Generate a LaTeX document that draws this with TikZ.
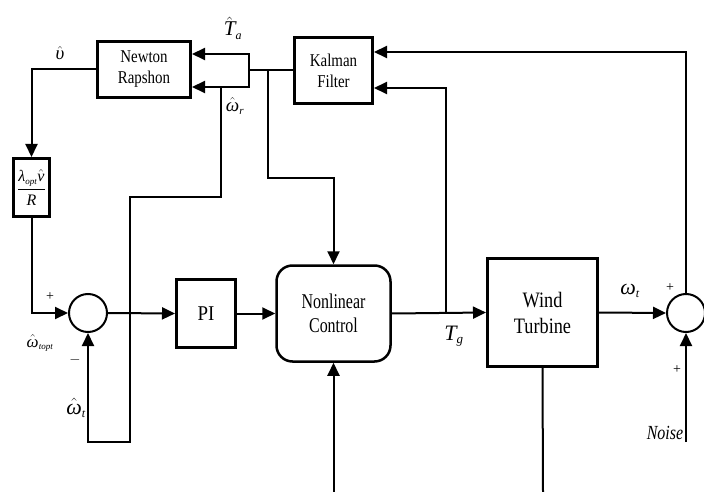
\documentclass[tikz,border=0pt]{standalone}
\usepackage{fontspec}
\setmainfont{Liberation Serif}
\usetikzlibrary{arrows.meta}
\newcommand{\sqz}[2][0.85]{\scalebox{#1}[1]{#2}}
\newcommand{\itb}[1]{\hbox{\itshape #1}}
\newcommand{\its}[2]{\hbox{\fontsize{#1}{#1}\selectfont\itshape #2}}
\begin{document}
\begin{tikzpicture}[x=1pt,y=-1pt,
  blk/.style={draw, line width=3pt, inner sep=0pt, align=center},
  conn/.style={line width=2pt},
  arr/.style={conn, -{Triangle[length=13pt,width=12pt]}},
  sumc/.style={draw, circle, line width=2pt, minimum size=38pt, inner sep=0pt},
  lbl/.style={inner sep=0pt},
]
\useasboundingbox (0,0) rectangle (704,492);

% blocks
\node[blk, minimum width=93pt, minimum height=56pt, font=\fontsize{18}{21}\selectfont] (nr) at (144,69.5) {\sqz[0.83]{Newton}\\\sqz[0.83]{Rapshon}};
\node[blk, minimum width=78pt, minimum height=66pt, font=\fontsize{18}{21}\selectfont] (kf) at (333.5,70.5) {\sqz[0.83]{Kalman}\\\sqz[0.83]{Filter}};
\node[blk, minimum width=36pt, minimum height=58pt, font=\fontsize{16}{18}\selectfont] (lam) at (31.5,187.5) {$\displaystyle\frac{\itb{λ}_{\its{9}{opt}}\hat{\itb{v}}}{\itb{R}}$};
\node[sumc] (sl) at (88,313) {};
\node[blk, minimum width=59pt, minimum height=68pt, font=\fontsize{21}{24}\selectfont] (pi) at (206,313.5) {\sqz[0.9]{PI}};
\node[blk, line width=2.5pt, rounded corners=16pt, minimum width=114pt, minimum height=96pt, font=\fontsize{21}{24}\selectfont] (nc) at (333.5,313.5) {\sqz[0.76]{Nonlinear}\\\sqz[0.76]{Control}};
\node[blk, minimum width=110pt, minimum height=108pt, font=\fontsize{22}{26}\selectfont] (wt) at (542.5,312.5) {\sqz[0.83]{Wind}\\\sqz[0.83]{Turbine}};
\node[sumc] (sr) at (686,313) {};

% junctions and free ends
\coordinate (bk) at (249,70.5);
\coordinate (j1) at (268,70.5);
\coordinate (j2) at (268,178);
\coordinate (wr0) at (221,87);
\coordinate (wr1) at (221,197);
\coordinate (wr2) at (130,197);
\coordinate (wr3) at (130,442);
\coordinate (wr4) at (88,442);
\coordinate (tgj) at (446,313);
\coordinate (bin) at (333.5,492);
\coordinate (bout) at (543,492);
\coordinate (nz) at (686,442);

% connectors
\draw[conn] (kf.west) -- (bk);
\draw[arr] (bk) |- ([yshift=15.5pt]nr.east);
\draw[arr] (bk) |- ([yshift=-17.5pt]nr.east);
\draw[arr] (j1) -- (j2) -| (nc.north);
\draw[arr] (wr0) -- (wr1) -- (wr2) -- (wr3) -- (wr4) -- (sl.south);
\draw[arr] (nr.west) -| (lam.north);
\draw[arr] (lam.south) |- (sl.west);
\draw[arr] (sl.east) -- (pi.west);
\draw[arr] (pi.east) -- (nc.west);
\draw[arr] (nc.east) -- (wt.west);
\draw[arr] (tgj) |- ([yshift=-17.5pt]kf.east);
\draw[arr] (wt.east) -- (sr.west);
\draw[arr] (sr.north) |- ([yshift=18.5pt]kf.east);
\draw[arr] (nz) -- (sr.south);
\draw[arr] (bin) -- (nc.south);
\draw[conn] (wt.south) -- (bout);

% labels
\node[lbl, font=\fontsize{21}{24}\selectfont] (lta) at (233,28) {$\hat{\itb{T}}_{\its{12}{a}}$};
\node[lbl, font=\fontsize{19}{20}\selectfont] (lv) at (60,53) {$\hat{\itb{υ}}$};
\node[lbl, font=\fontsize{19}{20}\selectfont] (lwr) at (235,106) {$\hat{\itb{ω}}_{\its{11}{r}}$};
\node[lbl, font=\fontsize{14}{16}\selectfont] (lp1) at (50,297) {+};
\node[lbl, font=\fontsize{17}{18}\selectfont] (lwo) at (40,343) {$\hat{\itb{ω}}_{\its{9}{topt}}$};
\node[lbl, font=\fontsize{14}{16}\selectfont] (lm) at (75,360) {$-$};
\node[lbl, font=\fontsize{22}{24}\selectfont] (lwt) at (76,408) {$\hat{\itb{ω}}_{\its{12}{t}}$};
\node[lbl, font=\fontsize{22}{24}\selectfont] (ltg) at (454,336) {$\itb{T}_{\its{13}{g}}$};
\node[lbl, font=\fontsize{22}{24}\selectfont] (lwt2) at (630,291) {$\itb{ω}_{\its{12}{t}}$};
\node[lbl, font=\fontsize{14}{16}\selectfont] (lp2) at (670,288) {+};
\node[lbl, font=\fontsize{14}{16}\selectfont] (lp3) at (677,370) {+};
\node[lbl, font=\fontsize{20}{22}\selectfont] (lnz) at (665,433) {\sqz[0.8]{\textit{Noise}}};
\end{tikzpicture}
\end{document}
